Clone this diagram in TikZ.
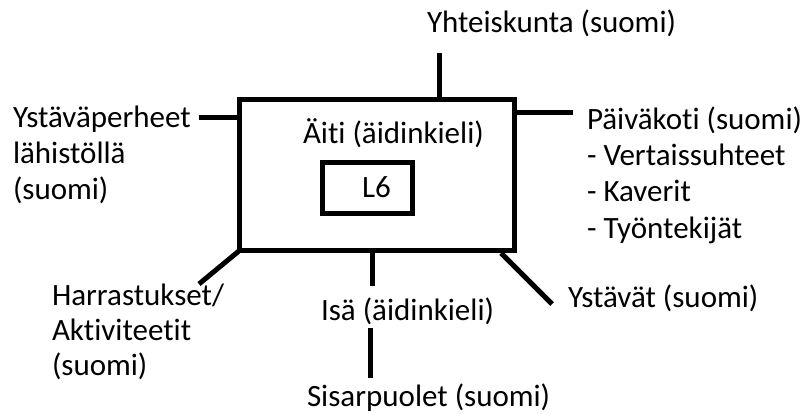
\documentclass[tikz,border=0pt]{standalone}
\usepackage{fontspec}
\setmainfont[Ligatures={NoCommon}]{Carlito}
\newcommand{\stack}[2]{{\fontsize{31}{#1}\selectfont\begin{tabular}[t]{@{}l@{}}#2\end{tabular}}}
\begin{document}
\begin{tikzpicture}[x=1pt,y=-1pt,
  lbl/.style={inner sep=0pt, outer sep=0pt, anchor=base west,
              font=\fontsize{31}{36}\selectfont},
  frame/.style={draw, line width=5pt, inner sep=0pt, outer sep=0pt},
  link/.style={line width=5pt}]
\useasboundingbox[fill=white] (0,0) rectangle (802,414);

% mother box with the inner L6 box
\node[frame, minimum width=275pt, minimum height=151pt] (mum) at (377,175) {};
\node[lbl] (aiti) at (303,144) {Äiti (äidinkieli)};
\node[frame, minimum width=90pt, minimum height=50pt] (lsix) at (367,188) {};
\node[lbl] (lsixtxt) at (362,197) {L6};

% surrounding labels
\node[lbl] (yht) at (427,33) {Yhteiskunta (suomi)};
\node[lbl] (perh) at (13,128) {\stack{36}{Ystäväperheet\\lähistöllä\\(suomi)}};
\node[lbl] (paiv) at (587,130) {\stack{36}{Päiväkoti (suomi)\\- Vertaissuhteet\\- Kaverit\\- Työntekijät}};
\node[lbl] (harr) at (52,305) {\stack{35}{Harrastukset/\\Aktiviteetit\\(suomi)}};
\node[lbl] (isa) at (321,320) {Isä (äidinkieli)};
\node[lbl] (ystv) at (568,307) {Ystävät (suomi)};
\node[lbl] (sisar) at (307,406) {Sisarpuolet (suomi)};

% connector ends
\coordinate (topend) at (439,53);
\coordinate (leftend) at (199,118);
\coordinate (rightend) at (573,113);
\coordinate (botend) at (372,286);
\coordinate (harrend) at (199,284);
\coordinate (ystvstart) at (501,253);
\coordinate (ystvend) at (552,304);
\coordinate (sisartop) at (370.5,328);
\coordinate (sisarbot) at (370.5,378);

% connectors
\draw[link] (topend) -- (topend |- mum.north);
\draw[link] (leftend) -- (leftend -| mum.west);
\draw[link] (rightend) -- (rightend -| mum.east);
\draw[link] (botend) -- (botend |- mum.south);
\draw[link] (mum.south west) -- (harrend);
\draw[link] (ystvstart) -- (ystvend);
\draw[link] (sisartop) -- (sisarbot);
\end{tikzpicture}
\end{document}
